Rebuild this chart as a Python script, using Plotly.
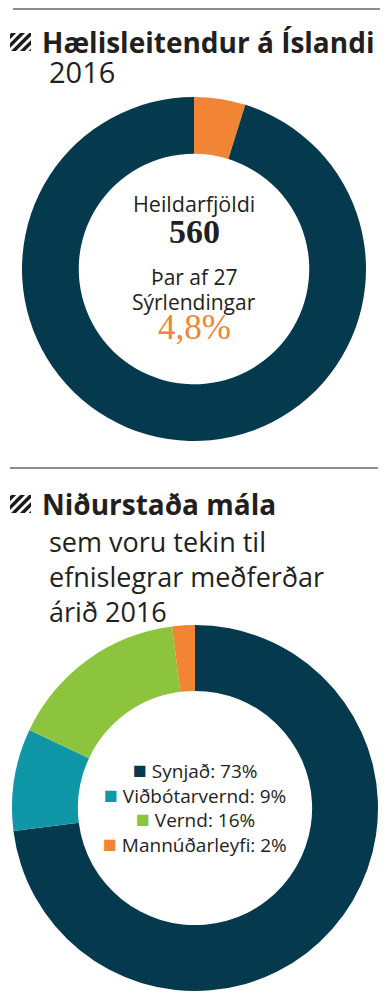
import plotly.graph_objects as go

# ---------------- data ----------------
title1 = "Hælisleitendur á Íslandi"
subtitle1 = ["2016"]
labels1 = ["Sýrlendingar", "Aðrir"]
values1 = [27, 533]
colors1 = ["#f28435", "#053a4e"]

title2 = "Niðurstaða mála"
subtitle2 = ["sem voru tekin til", "efnislegrar meðferðar", "árið 2016"]
labels2 = ["Synjað", "Viðbótarvernd", "Vernd", "Mannúðarleyfi"]
values2 = [73, 9, 16, 2]
colors2 = ["#053a4e", "#0f97a8", "#8cc43d", "#f28435"]

# page body has an 8px margin; figure is sized to fill the rest of the window
OFF = 8
W, H = 390 - OFF, 1000 - OFF
TXT = "#231f20"
SANS = "Open Sans"
SERIF = "Liberation Serif"


def px(x):
    return (x - OFF) / W


def py(y):
    return 1 - (y - OFF) / H


fig = go.Figure()

# donut 1
c1x, c1y, r1 = 194, 269, 172
fig.add_trace(go.Pie(
    labels=labels1, values=values1, hole=0.67, sort=False,
    direction="clockwise", rotation=0,
    marker=dict(colors=colors1, line=dict(width=0)),
    textinfo="none", hoverinfo="label+value", showlegend=False,
    domain=dict(x=[px(c1x - r1), px(c1x + r1)], y=[py(c1y + r1), py(c1y - r1)]),
))

# donut 2
c2x, c2y, r2 = 195, 808, 183
fig.add_trace(go.Pie(
    labels=labels2, values=values2, hole=0.64, sort=False,
    direction="clockwise", rotation=0,
    marker=dict(colors=colors2, line=dict(width=0)),
    textinfo="none", hoverinfo="label+percent", showlegend=False,
    domain=dict(x=[px(c2x - r2), px(c2x + r2)], y=[py(c2y + r2), py(c2y - r2)]),
))

shapes = []
annotations = []

# separator lines
for y, x0, x1 in [(9, 13, 380), (468, 10, 378)]:
    shapes.append(dict(type="line", xref="paper", yref="paper",
                       x0=px(x0), x1=px(x1), y0=py(y), y1=py(y),
                       line=dict(color="#8c8c8c", width=2)))


def clip(poly, x0, y0, x1, y1):
    """Sutherland-Hodgman clip of polygon to axis-aligned rectangle."""
    def cut(pts, inside, inter):
        out = []
        for i in range(len(pts)):
            a, b = pts[i - 1], pts[i]
            ia, ib = inside(a), inside(b)
            if ib:
                if not ia:
                    out.append(inter(a, b))
                out.append(b)
            elif ia:
                out.append(inter(a, b))
        return out

    def ix(xv):
        return lambda a, b: (xv, a[1] + (b[1] - a[1]) * (xv - a[0]) / (b[0] - a[0]))

    def iy(yv):
        return lambda a, b: (a[0] + (b[0] - a[0]) * (yv - a[1]) / (b[1] - a[1]), yv)

    p = poly
    p = cut(p, lambda q: q[0] >= x0, ix(x0))
    p = cut(p, lambda q: q[0] <= x1, ix(x1))
    p = cut(p, lambda q: q[1] >= y0, iy(y0))
    p = cut(p, lambda q: q[1] <= y1, iy(y1))
    return p


def hatch(x0, y0, w, h):
    out = []
    period = (w + h) / 4.4
    band = period * 0.55
    big = 100
    for k in range(5):
        c1 = x0 + y0 + k * period + period * 0.15
        c2 = c1 + band
        # band region c1 <= x + y <= c2 ("/" stripes)
        poly = [(c1 - (y0 - big), y0 - big), (c2 - (y0 - big), y0 - big),
                (c2 - (y0 + big), y0 + big), (c1 - (y0 + big), y0 + big)]
        cp = clip(poly, x0, y0, x0 + w, y0 + h)
        if len(cp) >= 3:
            path = "M " + " L ".join(f"{px(a):.5f},{py(b):.5f}" for a, b in cp) + " Z"
            out.append(dict(type="path", xref="paper", yref="paper", path=path,
                            fillcolor="#1a1a1a", line=dict(width=0)))
    return out


shapes += hatch(10, 33, 21, 18)
shapes += hatch(10, 495, 21, 18)


def ann(text, x, y, size, color=TXT, family=SANS, xanchor="left", bold=False):
    if bold:
        text = "<b>" + text + "</b>"
    annotations.append(dict(text=text, x=px(x), y=py(y), xref="paper", yref="paper",
                            xanchor=xanchor, yanchor="middle", showarrow=False,
                            font=dict(size=size, color=color, family=family)))


# titles
ann(title1, 40, 42, 28, bold=True)
for i, s in enumerate(subtitle1):
    ann(s, 47, 72, 29)
ann(title2, 40, 504, 28, bold=True)
for i, s in enumerate(subtitle2):
    ann(s, 47, 541 + 35 * i, 27)

# center text donut 1
total = sum(values1)
pct = values1[0] / total * 100
ann("Heildarfjöldi", c1x, 204, 21.5, xanchor="center")
ann(f"{total}", c1x, 231, 34, family=SERIF, xanchor="center", bold=True)
ann(f"Þar af {values1[0]}", c1x, 277, 21, xanchor="center")
ann(labels1[0], c1x, 302, 21, xanchor="center")
ann(f"{pct:.1f}%".replace(".", ","), c1x, 328, 35, color=colors1[0],
    family=SERIF, xanchor="center")

# legend in donut 2
for i, (lab, v, col) in enumerate(zip(labels2, values2, colors2)):
    ann(f"<span style='color:{col};font-size:23px'>■</span> {lab}: {v}%",
        c2x, 769 + 24.5 * i, 19, xanchor="center")

fig.update_layout(
    width=W, height=H, margin=dict(l=0, r=0, t=0, b=0),
    paper_bgcolor="white", plot_bgcolor="white",
    shapes=shapes, annotations=annotations,
)

fig.write_html("out.html")
